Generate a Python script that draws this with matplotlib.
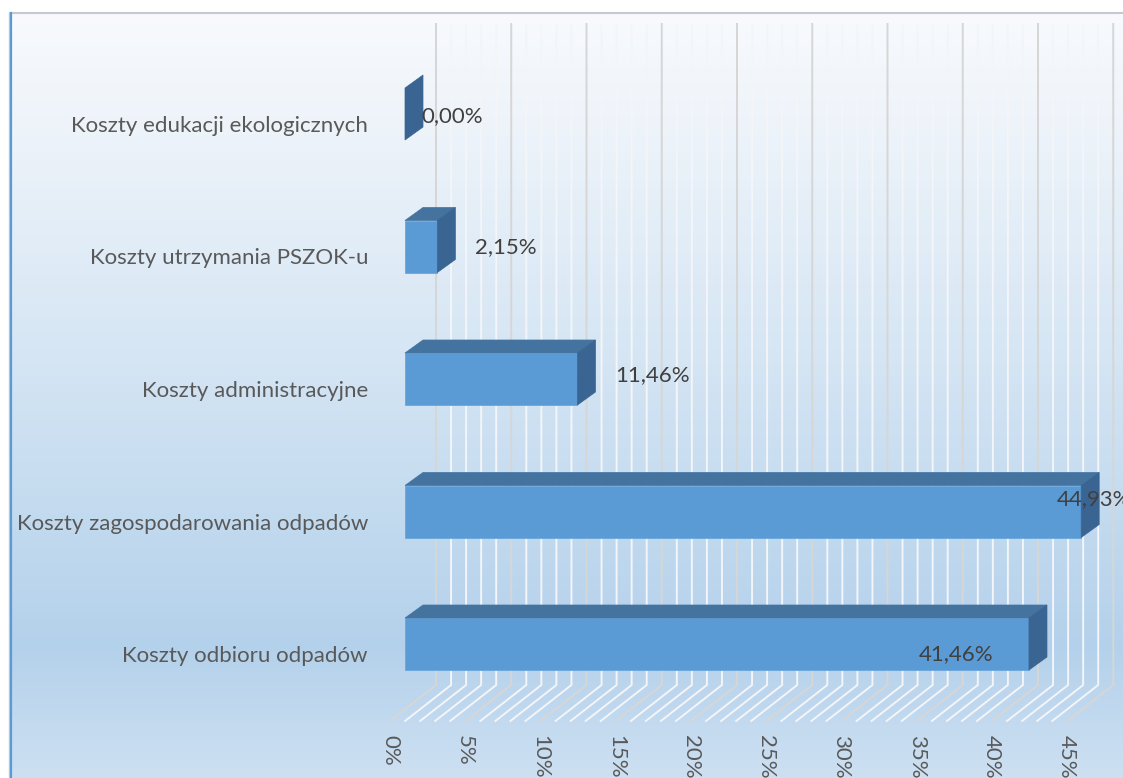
import numpy as np
import matplotlib.pyplot as plt
from matplotlib.colors import LinearSegmentedColormap
from matplotlib.patches import Polygon, Rectangle

plt.rcParams['font.family'] = ['Lato', 'DejaVu Sans']

# data (bottom to top)
categories = ['Koszty odbioru odpadów',
              'Koszty zagospodarowania odpadów',
              'Koszty administracyjne',
              'Koszty utrzymania PSZOK-u',
              'Koszty edukacji ekologicznych']
shares = [41.46, 44.93, 11.46, 2.15, 0.00]
ticks = [0, 5, 10, 15, 20, 25, 30, 35, 40, 45]
tick_labels = [str(t) + '%' for t in ticks]

# layout (pixels of the 1123x778 picture)
W, H = 1123, 778
px_x = 15.05      # px per 1 %
px_y = 132.5      # px per category
x0_px, y0_px = 405, 644
fs = 16

def dx(p):
    return p / px_x

def dy(p):
    return p / px_y

# label placement tweaks (px): horizontal shift from bar end, vertical shift, alignment
lab_dx = [-36, -24, 38, 38, 16]
lab_dy = [-10, 12, 4, -1, -2]
lab_ha = ['right', 'left', 'left', 'left', 'left']

fig = plt.figure(figsize=(W / 100, H / 100), dpi=100)

# background gradient of the chart area
bg = fig.add_axes([0, 0, 1, 1])
bg.set_xlim(0, W)
bg.set_ylim(H, 0)
bg.axis('off')
cmap = LinearSegmentedColormap.from_list('bgfill', [
    (0.0, '#f8fafd'), (0.18, '#ebf2f9'), (0.44, '#d6e6f4'),
    (0.70, '#bfd8ee'), (0.83, '#b4d1eb'), (1.0, '#cde0f2')])
ramp = np.linspace(0, 1, 256).reshape(-1, 1)
bg.imshow(ramp, extent=(10, W, H, 13), aspect='auto', cmap=cmap)
bg.plot([10, W], [13, 13], color='#c6cad0', lw=1.5)
bg.plot([9, 9], [13, H], color='#c6cad0', lw=1.0)
bg.plot([11, 11], [13, H], color='#5b9bd5', lw=1.6)

ax = fig.add_axes([0, 0, 1, 1])
ax.patch.set_alpha(0)
ax.set_xlim(-x0_px / px_x, (W - x0_px) / px_x)
ax.set_ylim((y0_px - H) / px_y, y0_px / px_y)
ax.axis('off')

# back wall + floor gridlines
top = dy(y0_px - 24)
back_y, front_y = -dy(685 - y0_px), -dy(721 - y0_px)
back_off, front_off = dx(31), dx(-15)
for k in range(0, 46):
    col = '#d6d6d6' if k % 5 == 0 else '#f3f5f8'
    ax.plot([k + back_off, k + back_off, k + front_off], [top, back_y, front_y],
            color=col, lw=1.4, zorder=1, solid_joinstyle='miter')

# 3D bars
h = dy(26)
ddx, ddy = dx(18), dy(13)
front_c, top_c, side_c = '#5b9bd5', '#44739f', '#3a6491'
for i, v in enumerate(shares):
    if v > 0:
        ax.add_patch(Rectangle((0, i - h), v, 2 * h, facecolor=front_c,
                               edgecolor='#6aa6dc', lw=0.6, zorder=3))
        ax.add_patch(Polygon([(0, i + h), (v, i + h), (v + ddx, i + h + ddy), (ddx, i + h + ddy)],
                             closed=True, facecolor=top_c, edgecolor=top_c, lw=0.5, zorder=3))
    ax.add_patch(Polygon([(v, i - h), (v + ddx, i - h + ddy), (v + ddx, i + h + ddy), (v, i + h)],
                         closed=True, facecolor=side_c, edgecolor=side_c, lw=0.5, zorder=3))

    txt = ('%.2f' % v).replace('.', ',') + '%'
    ax.text(v + dx(lab_dx[i]), i + dy(lab_dy[i]), txt, ha=lab_ha[i], va='center',
            fontsize=fs, color='#404040', zorder=5)

    ax.text(dx(368 - x0_px), i - dy(12), categories[i], ha='right', va='center',
            fontsize=fs, color='#595959', zorder=5)

# axis tick labels along the front edge of the floor
for t, lab in zip(ticks, tick_labels):
    ax.text(t + front_off, -dy(735 - y0_px), lab, rotation=270, ha='center', va='top',
            fontsize=fs, color='#595959', zorder=5)

fig.savefig('out.png', dpi=100)
